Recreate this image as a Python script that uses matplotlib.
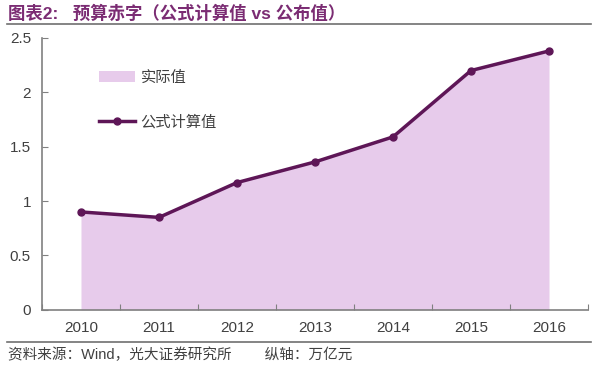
import matplotlib.pyplot as plt
import numpy as np

plt.rcParams['font.family'] = ['Liberation Sans', 'Noto Sans CJK SC', 'DejaVu Sans']

# 数据
years = ['2010', '2011', '2012', '2013', '2014', '2015', '2016']
shiji = [0.90, 0.85, 1.17, 1.36, 1.59, 2.20, 2.38]   # 实际值
gongshi = [0.90, 0.85, 1.17, 1.36, 1.59, 2.20, 2.38]  # 公式计算值
yticks = [0, 0.5, 1, 1.5, 2, 2.5]
ylabels = ['0', '0.5', '1', '1.5', '2', '2.5']

fig = plt.figure(figsize=(6, 3.68), dpi=100)
ax = fig.add_axes([0.07, 0.158, 0.91, 0.739])

x = np.arange(len(years))
ax.fill_between(x, 0, shiji, color='#e7cbeb', linewidth=0, label='实际值')
ax.plot(x, gongshi, color='#5e1657', linewidth=2.5, marker='o', markersize=5,
        label='公式计算值')

ax.set_xlim(-0.5, 6.5)
ax.set_ylim(0, 2.5)

# x轴刻度在类别之间
ax.set_xticks(np.arange(-0.5, 7, 1))
ax.set_xticklabels([])
ax.set_xticks(x, minor=True)
ax.set_xticklabels(years, minor=True)
ax.tick_params(axis='x', which='major', direction='in', length=4, color='#808080')
ax.tick_params(axis='x', which='minor', length=0, pad=8, labelsize=11, labelcolor='#404040')

ax.set_yticks(yticks)
ax.set_yticklabels(ylabels)
ax.tick_params(axis='y', direction='in', length=4, color='#808080', labelsize=11,
               labelcolor='#404040', pad=8)

for s in ['top', 'right']:
    ax.spines[s].set_visible(False)
for s in ['left', 'bottom']:
    ax.spines[s].set_color('#808080')
    ax.spines[s].set_linewidth(1.2)

leg = ax.legend(loc='upper left', bbox_to_anchor=(0.08, 0.93), frameon=False,
                fontsize=11, handlelength=2.3, labelspacing=1.95, handletextpad=0.4)
for t in leg.get_texts():
    t.set_color('#404040')

# 标题和来源
fig.text(0.013, 0.965, '图表2:   预算赤字（公式计算值 vs 公布值）', color='#7b2c73',
         fontsize=12.5, fontweight='bold', va='center')
fig.add_artist(plt.Line2D([0.012, 0.985], [0.935, 0.935], color='#707070', linewidth=1.2))
fig.add_artist(plt.Line2D([0.012, 0.985], [0.071, 0.071], color='#707070', linewidth=1.2))
fig.text(0.013, 0.035, '资料来源：Wind，光大证券研究所        纵轴：万亿元', color='#404040',
         fontsize=10.5, va='center')

plt.savefig('out.png', dpi=100)
